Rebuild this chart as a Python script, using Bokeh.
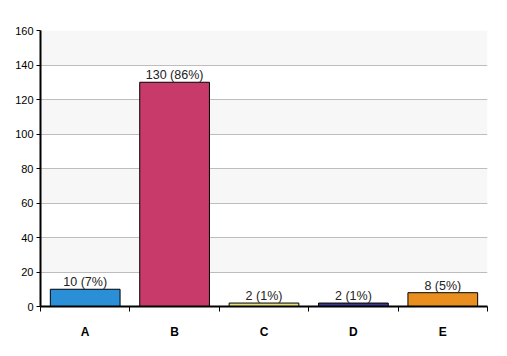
from bokeh.plotting import figure
from bokeh.models import ColumnDataSource, FixedTicker, Range1d
from bokeh.embed import file_html
from bokeh.resources import INLINE
from bokeh.core.properties import value

categories = ["A", "B", "C", "D", "E"]
counts = [10, 130, 2, 2, 8]
percents = [7, 86, 1, 1, 5]
colors = ["#2b8fd8", "#c73a69", "#e6e07a", "#3b3b8c", "#e88f1f"]
y_ticks = [0, 20, 40, 60, 80, 100, 120, 140, 160]

xs = [i + 0.5 for i in range(len(categories))]
labels = [f"{c} ({p}%)" for c, p in zip(counts, percents)]
src = ColumnDataSource(dict(x=xs, top=counts, color=colors, label=labels))

p = figure(width=507, height=356, output_backend="svg", toolbar_location=None,
           x_range=Range1d(0, len(categories)), y_range=Range1d(0, 160),
           min_border_left=40, min_border_right=20, min_border_top=30, min_border_bottom=50)
p.outline_line_color = None
p.background_fill_color = "white"

p.vbar(x="x", top="top", width=0.78, bottom=0, fill_color="color",
       line_color="black", line_width=1, source=src)
p.text(x="x", y="top", text="label", source=src, text_align="center",
       text_baseline="bottom", text_font=value("Liberation Sans"),
       text_font_size="12.5px", text_color="#222222", y_offset=0)

# x axis
p.xaxis.ticker = FixedTicker(ticks=xs, minor_ticks=list(range(len(categories) + 1)))
p.xaxis.major_label_overrides = {x: c for x, c in zip(xs, categories)}
p.xaxis.major_tick_out = 0
p.xaxis.major_tick_in = 0
p.xaxis.minor_tick_out = 5
p.xaxis.minor_tick_in = 0
p.xaxis.minor_tick_line_color = "black"
p.xaxis.axis_line_color = "black"
p.xaxis.axis_line_width = 2
p.xaxis.major_label_text_font = "Liberation Sans"
p.xaxis.major_label_text_font_style = "bold"
p.xaxis.major_label_text_font_size = "12px"
p.xaxis.major_label_text_color = "black"
p.xaxis.major_label_standoff = 13
p.xgrid.visible = False

# y axis
p.yaxis.ticker = FixedTicker(ticks=y_ticks)
p.yaxis.major_tick_out = 4
p.yaxis.major_tick_in = 0
p.yaxis.minor_tick_line_color = None
p.yaxis.axis_line_color = "black"
p.yaxis.axis_line_width = 2
p.yaxis.major_label_text_font = "Liberation Sans"
p.yaxis.major_label_text_font_size = "11px"
p.yaxis.major_label_text_color = "black"
p.yaxis.major_label_standoff = 3
p.ygrid.grid_line_color = "#bdbdbd"
p.ygrid.band_fill_color = "#f7f7f7"
p.ygrid.band_fill_alpha = 1.0

open("out.html", "w").write(file_html(p, INLINE))
